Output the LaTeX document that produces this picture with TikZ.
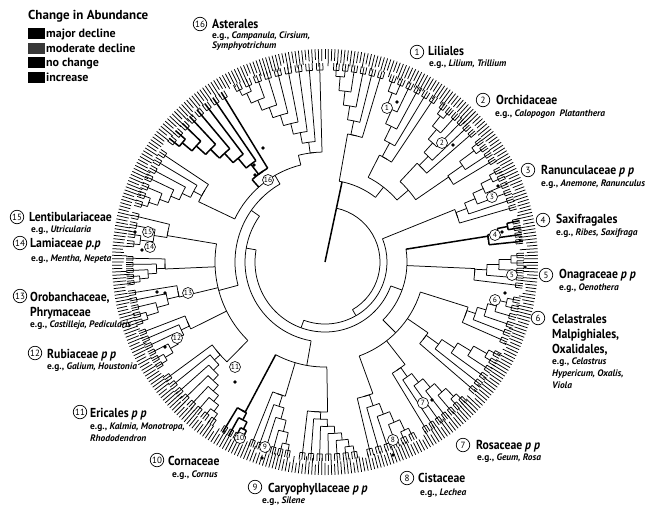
\documentclass[tikz,border=0pt]{standalone}
\usepackage{fontspec}
\setmainfont{PT Sans}
\tikzset{
  thk/.style={line width=1.5pt},
  numc/.style={circle, draw, line width=0.7pt, fill=white, inner sep=0pt, minimum size=13.5pt, font=\fontsize{9}{9}\selectfont},
  inum/.style={circle, draw, line width=0.6pt, fill=white, inner sep=0pt, minimum size=11pt, font=\fontsize{7.5}{8}\selectfont},
  lbig/.style={anchor=base west, inner sep=0pt, font=\fontsize{13}{13}\selectfont\bfseries},
  lsml/.style={anchor=base west, inner sep=0pt, font=\fontsize{9.4}{10}\selectfont\bfseries},
  lleg/.style={anchor=base west, inner sep=0pt, font=\fontsize{12}{12}\selectfont\bfseries},
  cdot/.style={circle, fill, inner sep=0pt, minimum size=3.6pt},
  sqbox/.style={fill, minimum width=17pt, minimum height=11pt, inner sep=0pt},
}
\newcommand\bg[1]{\scalebox{0.9}[1]{#1}}
\def\Rtip{199}
\newcommand\arcr[3]{\draw (#2:#1) arc[start angle=#2, end angle=#3, radius=#1pt];}
% ladder: [style] a1 a2 n r0 r1 rparent stemangle
\newcommand\ladder[8][]{%
  \pgfmathsetmacro\lls{(#3-#2)/#4}%
  \pgfmathsetmacro\llast{#2+(#4-0.5)*\lls}%
  \xdef\curm{\llast}\xdef\curr{\Rtip}%
  \pgfmathtruncatemacro\lnn{#4-2}%
  \pgfmathtruncatemacro\lden{max(#4-2,1)}%
  \foreach \j in {\lnn,...,0}{%
    \pgfmathsetmacro\tj{#2+(\j+0.5)*\lls}%
    \pgfmathsetmacro\rj{#5+(#6-#5)*\j/\lden}%
    \pgfmathsetmacro\mj{(\tj+\curm)/2}%
    \draw[#1] (\tj:\rj) arc[start angle=\tj, end angle=\curm, radius=\rj pt];
    \draw[#1] (\tj:\rj) -- (\tj:\Rtip);
    \draw[#1] (\curm:\rj) -- (\curm:\curr);
    \xdef\curm{\mj}\xdef\curr{\rj}%
  }%
  \pgfmathtruncatemacro\lnt{#4-1}%
  \foreach \j in {0,...,\lnt}{%
    \pgfmathsetmacro\tj{#2+(\j+0.5)*\lls}%
    \pgfmathsetmacro\fa{\tj-0.3*\lls}%
    \pgfmathsetmacro\fb{\tj+0.3*\lls}%
    \draw (\fa:192) arc[start angle=\fa, end angle=\fb, radius=192pt];
    \draw (\fa:192) -- (\fa:\Rtip);
    \draw (\fb:192) -- (\fb:\Rtip);
  }%
  \draw[#1] (\curm:#5) arc[start angle=\curm, end angle=#8, radius=#5pt];
  \draw[#1] (#8:#7) -- (#8:#5);
}
\begin{document}
\begin{tikzpicture}[x=1pt,y=1pt]
\useasboundingbox (0,0) rectangle (653,-507);
\pgfmathsetseed{12}
\begin{scope}[shift={(325,-262)}, line width=0.75pt]
  % rim ticks
  \foreach \a in {0,0.9,...,359.2}{%
    \pgfmathsetmacro\rs{195+rnd*8}%
    \draw (\a:\rs) -- (\a:213);
  }
  % backbone
  \draw[thk] (78:0) -- (78:55);
  \arcr{55}{-60}{78}
  \draw[thk] (78:55) -- (78:82);
  \arcr{82}{52}{80}
  \draw (52:82) -- (52:95);
  \arcr{95}{40.75}{63}
  \draw (40.75:95) -- (40.75:110);
  \arcr{110}{34.5}{47}
  \draw (-60:55) -- (-60:62);
  \arcr{62}{-110}{22}
  \draw (-110:62) -- (-110:70);
  \arcr{70}{-190}{-20}
  \draw (-20:70) -- (-20:82);
  \arcr{82}{-45}{9}
  \draw (-45:82) -- (-45:100);
  \arcr{100}{-70}{-17.5}
  \draw (-190:70) -- (-190:80);
  \arcr{80}{-215}{-100}
  \draw (-100:80) -- (-100:105);
  \arcr{105}{-118}{-89}
  \draw (-215:80) -- (-215:90);
  \arcr{90}{-240}{-165}
  \draw (-165:90) -- (-165:110);
  \arcr{110}{-189.5}{-134.5}
  \draw (-240:90) -- (-240:100);
  \arcr{100}{-256}{-205.5}
  % clades
  \ladder{72}{88}{6}{130}{186}{82}{80}
  \ladder{55}{71}{6}{120}{182}{95}{63}
  \ladder{40}{54}{6}{135}{186}{110}{47}
  \ladder{30}{39}{4}{150}{186}{110}{34.5}
  \ladder{15}{29}{6}{140}{186}{62}{22}
  \ladder[thk]{5}{13}{4}{165}{186}{82}{9}
  \ladder{-8}{3}{5}{150}{186}{82}{-2.5}
  \ladder{-25}{-10}{6}{150}{186}{100}{-17.5}
  \ladder{-42}{-27}{6}{125}{186}{100}{-34.5}
  \ladder{-60}{-44}{7}{130}{186}{100}{-52}
  \ladder{-78}{-62}{6}{140}{186}{100}{-70}
  \ladder{-98}{-80}{7}{150}{186}{105}{-89}
  \ladder{-113}{-100}{6}{140}{186}{105}{-106.5}
  \ladder[thk]{-122}{-114}{4}{170}{186}{105}{-118}
  \ladder{-145}{-124}{8}{140}{186}{110}{-134.5}
  \ladder{-160}{-147}{6}{150}{186}{110}{-153.5}
  \ladder{-172}{-161}{5}{150}{186}{110}{-166.5}
  \ladder{-182}{-173}{5}{160}{186}{110}{-177.5}
  \ladder{-195}{-184}{4}{160}{186}{110}{-189.5}
  \ladder{-215}{-196}{7}{140}{186}{100}{-205.5}
  \ladder[thk]{-240}{-217}{8}{110}{186}{100}{-228.5}
  \ladder{-270}{-242}{9}{110}{186}{100}{-256}
\end{scope}
% change markers
\foreach \p [count=\i] in {(397,-102),(453,-145),(498,-186),(502,-232),(525,-267),(505,-293),(432,-400),(393,-455),(262,-458),(235,-382),(165,-347),(165,-293),(157,-292),(135,-232),(142,-250),(255,-175),(254,-165),(263,-148)}{
  \node[cdot] (d\i) at \p {};
}
% inner numbers
\node[inum] (n1) at (387,-108) {1};
\node[inum] (n2) at (442,-143) {2};
\node[inum] (n3) at (492,-197) {3};
\node[inum] (n4) at (495,-235) {4};
\node[inum] (n5) at (512,-275) {5};
\node[inum] (n6) at (495,-300) {6};
\node[inum] (n7) at (423,-403) {7};
\node[inum] (n8) at (393,-440) {8};
\node[inum] (n9) at (265,-447) {9};
\node[inum] (n10) at (240,-438) {10};
\node[inum] (n11) at (235,-367) {11};
\node[inum] (n12) at (177,-338) {12};
\node[inum] (n13) at (188,-293) {13};
\node[inum] (n14) at (150,-247) {14};
\node[inum] (n15) at (148,-232) {15};
\node[inum] (n16) at (268,-180) {16};
% legend
\node[lleg, font=\fontsize{13}{13}\selectfont\bfseries] (lt) at (28,-19) {Change in Abundance};
\node[sqbox] (s1) at (36,-33) {};
\node[sqbox, fill=black!78] (s2) at (36,-48) {};
\node[sqbox] (s3) at (36,-62) {};
\node[sqbox] (s4) at (36,-77) {};
\node[lleg] (t1) at (46,-37) {major decline};
\node[lleg] (t2) at (46,-52) {moderate decline};
\node[lleg] (t3) at (46,-66) {no change};
\node[lleg] (t4) at (46,-81) {increase};
% outer labels
\node[numc] (c1) at (417,-52) {1};
\node[lbig] (a1) at (428,-55) {\bg{Liliales}};
\node[lsml] (b1) at (429,-66) {e.g., \textit{Lilium, Trillium}};
\node[numc] (c2) at (483,-100) {2};
\node[lbig] (a2) at (496,-104) {\bg{Orchidaceae}};
\node[lsml] (b2) at (495,-116) {e.g., \textit{Calopogon\ \ Platanthera}};
\node[numc] (c3) at (528,-170) {3};
\node[lbig] (a3) at (541,-174) {\bg{Ranunculaceae \textit{p p}}};
\node[lsml] (b3) at (541,-186) {e.g., \textit{Anemone, Ranunculus}};
\node[numc] (c4) at (543,-220) {4};
\node[lbig] (a4) at (556,-223) {\bg{Saxifragales}};
\node[lsml] (b4) at (556,-235) {e.g., \textit{Ribes, Saxifraga}};
\node[numc] (c5) at (546,-275) {5};
\node[lbig] (a5) at (559,-278) {\bg{Onagraceae \textit{p p}}};
\node[lsml] (b5) at (559,-290) {e.g., \textit{Oenothera}};
\node[numc] (c6) at (538,-318) {6};
\node[lbig] (a6) at (552,-323.5) {\bg{Celastrales}};
\node[lbig] (a6b) at (552,-338) {\bg{Malpighiales,}};
\node[lbig] (a6c) at (552,-353) {\bg{Oxalidales,}};
\node[lsml] (b6) at (552,-364.5) {e.g., \textit{Celastrus}};
\node[lsml] (b6b) at (552,-376.5) {\textit{Hypericum, Oxalis,}};
\node[lsml] (b6c) at (552,-388.5) {\textit{Viola}};
\node[numc] (c7) at (463,-445) {7};
\node[lbig] (a7) at (476,-449) {\bg{Rosaceae \textit{p p}}};
\node[lsml] (b7) at (477,-460) {e.g., \textit{Geum, Rosa}};
\node[numc] (c8) at (407,-478) {8};
\node[lbig] (a8) at (418,-482) {\bg{Cistaceae}};
\node[lsml] (b8) at (420,-495) {e.g., \textit{Lechea}};
\node[numc] (c9) at (255,-487) {9};
\node[lbig] (a9) at (268,-492) {\bg{Caryophyllaceae \textit{p p}}};
\node[lsml] (b9) at (262,-503.5) {e.g., \textit{Silene}};
\node[numc] (c10) at (157,-460) {10};
\node[lbig] (a10) at (168,-465) {\bg{Cornaceae}};
\node[lsml] (b10) at (172,-477) {e.g., \textit{Cornus}};
\node[numc] (c11) at (80,-412) {11};
\node[lbig] (a11) at (90,-417) {\bg{Ericales \textit{p p}}};
\node[lsml] (b11) at (90,-429) {e.g., \textit{Kalmia, Monotropa,}};
\node[lsml] (b11b) at (90,-441) {\textit{Rhododendron}};
\node[numc] (c12) at (35,-353) {12};
\node[lbig] (a12) at (47,-358) {\bg{Rubiaceae \textit{p p}}};
\node[lsml] (b12) at (47,-369) {e.g., \textit{Galium, Houstonia}};
\node[numc] (c13) at (20,-296) {13};
\node[lbig] (a13) at (30,-301) {\bg{Orobanchaceae,}};
\node[lbig] (a13b) at (30,-316) {\bg{Phrymaceae}};
\node[lsml] (b13) at (30,-327) {e.g., \textit{Castilleja, Pedicularis}};
\node[numc] (c14) at (20,-243) {14};
\node[lbig] (a14) at (30,-247) {\bg{Lamiaceae \textit{p.p}}};
\node[lsml] (b14) at (31,-261) {e.g., \textit{Mentha, Nepeta}};
\node[numc] (c15) at (17,-217) {15};
\node[lbig] (a15) at (29,-221) {\bg{Lentibulariaceae}};
\node[lsml] (b15) at (31,-232) {e.g., \textit{Utricularia}};
\node[numc] (c16) at (200,-24) {16};
\node[lbig] (a16) at (212,-28) {\bg{Asterales}};
\node[lsml] (b16) at (212,-38) {e.g., \textit{Campanula, Cirsium,}};
\node[lsml] (b16b) at (212,-48) {\textit{Symphyotrichum}};
\end{tikzpicture}
\end{document}
